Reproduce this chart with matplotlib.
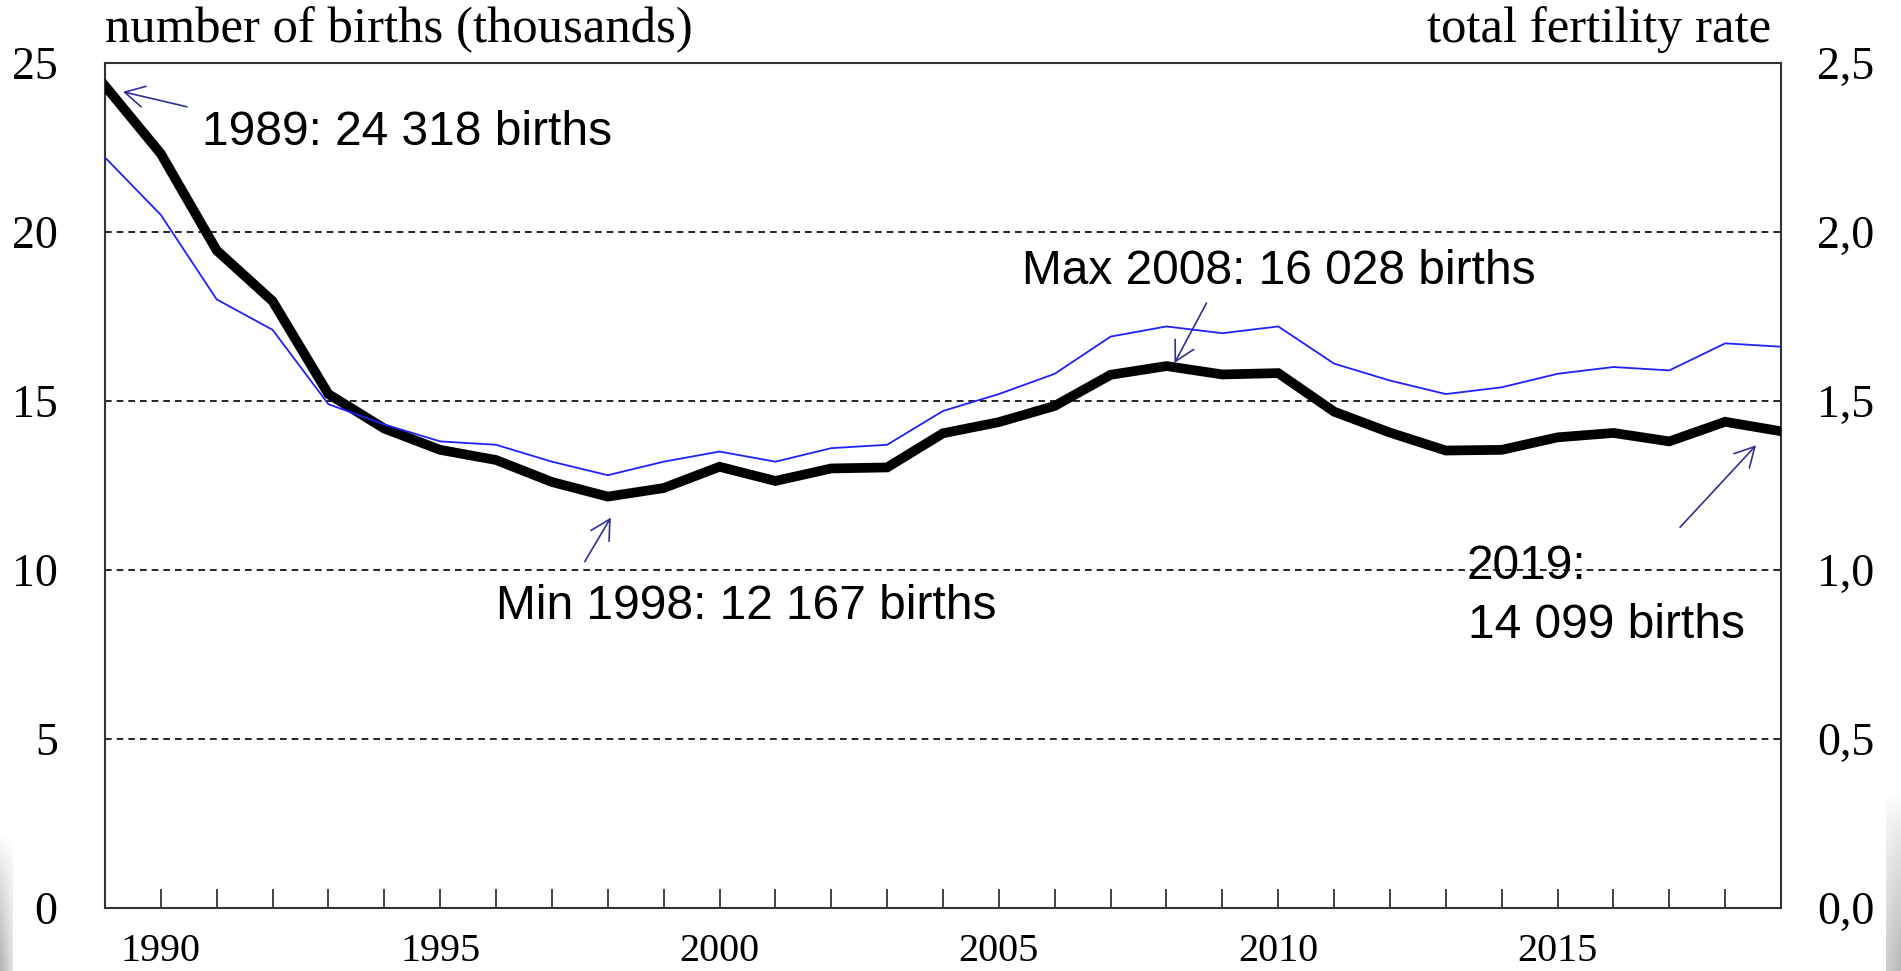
import numpy as np
import matplotlib.pyplot as plt
from matplotlib.transforms import offset_copy

# Estonia, births (thousands) and total fertility rate
years = list(range(1989, 2020))
births = [24.318, 22.31, 19.45, 17.95, 15.20, 14.18, 13.55, 13.25, 12.60, 12.167,
          12.42, 13.05, 12.63, 13.00, 13.03, 14.04, 14.37, 14.85, 15.77, 16.028,
          15.78, 15.82, 14.68, 14.06, 13.53, 13.55, 13.92, 14.05, 13.80, 14.38, 14.099]
tfr = [2.22, 2.05, 1.80, 1.71, 1.49, 1.43, 1.38, 1.37, 1.32, 1.28,
       1.32, 1.35, 1.32, 1.36, 1.37, 1.47, 1.52, 1.58, 1.69, 1.72,
       1.70, 1.72, 1.61, 1.56, 1.52, 1.54, 1.58, 1.60, 1.59, 1.67, 1.66]

left_ticks = [0, 5, 10, 15, 20, 25]
right_ticks = [0.0, 0.5, 1.0, 1.5, 2.0, 2.5]
right_labels = ["0,0", "0,5", "1,0", "1,5", "2,0", "2,5"]
grid_vals = [5, 10, 15, 20]

serif = "Liberation Serif"
sans = "Liberation Sans"
arrow_c = "#30309a"

fig = plt.figure(figsize=(19.01, 9.71), dpi=100)
ax = fig.add_axes([0.0552, 0.0649, 0.8817, 0.8705])
ax2 = ax.twinx()

for g in grid_vals:
    ax.axhline(g, color="black", lw=1.2, ls=(0, (4, 3)), zorder=1)

ax.plot(years, births, color="black", lw=7, solid_joinstyle="miter", zorder=3)
ax2.plot(years, tfr, color="#2020ff", lw=1.3, zorder=2)

ax.set_xlim(1989, 2019)
ax.set_ylim(0, 25)
ax2.set_ylim(0, 2.5)

ax.set_xticks(years[1:-1])
ax.set_xticklabels([str(y) if y % 5 == 0 else "" for y in years[1:-1]],
                   fontfamily=serif, fontsize=29)
ax.tick_params(axis="x", direction="in", length=14, width=1.2, pad=18, color="#222222")
ax.set_yticks(left_ticks)
ax.set_yticklabels([str(v) for v in left_ticks], fontfamily=serif, fontsize=33)
ax.tick_params(axis="y", length=0, pad=34)
ax2.set_yticks(right_ticks)
ax2.set_yticklabels(right_labels, fontfamily=serif, fontsize=33)
ax2.tick_params(axis="y", length=0, pad=26)

for s in ax.spines.values():
    s.set_color("#333333")
    s.set_linewidth(1.5)
for s in ax2.spines.values():
    s.set_visible(False)

fig.text(105 / 1901, 1 - 42 / 971, "number of births (thousands)", fontfamily=serif,
         fontsize=36.5, ha="left", va="baseline")
fig.text(1771 / 1901, 1 - 42 / 971, "total fertility rate", fontfamily=serif,
         fontsize=36.5, ha="right", va="baseline")

# annotations
tsize = 34.5
ax.text(1990.73, 22.57, "1989: 24 318 births", fontfamily=sans, fontsize=tsize, va="baseline")
ax.text(2005.42, 18.45, "Max 2008: 16 028 births", fontfamily=sans, fontsize=tsize, va="baseline")
ax.text(1996.0, 8.55, "Min 1998: 12 167 births", fontfamily=sans, fontsize=tsize, va="baseline")
ax.text(2013.37, 9.72, "2019:", fontfamily=sans, fontsize=tsize, va="baseline")
ax.text(2013.40, 7.98, "14 099 births", fontfamily=sans, fontsize=tsize, va="baseline")

# (year, tip offset from data point, tail offset from tip), pixels, y up
arrows = [
    (1989, (18, -6), (64, -15)),
    (2008, (8, 3), (32, 60)),
    (1998, (3, -21), (-26, -44)),
    (2019, (-25, -14), (-76, -82)),
]
for yr, tip, tail in arrows:
    i = years.index(yr)
    tr = offset_copy(ax.transData, fig=fig, x=tip[0], y=tip[1], units="dots")
    ax.annotate("", xy=(years[i], births[i]), xycoords=tr,
                xytext=tail, textcoords="offset pixels",
                arrowprops=dict(arrowstyle="->,head_length=0.7,head_width=0.38",
                                color=arrow_c, lw=1.2, shrinkA=0, shrinkB=0,
                                mutation_scale=20),
                annotation_clip=False, zorder=5)

# grey shading at the bottom corners
grad = np.linspace(0, 1, 100)[:, None] ** 0.8 * np.ones((1, 10))
gl = fig.add_axes([0, 0, 12 / 1901, 134 / 971])
gl.imshow(1 - 0.3 * grad * np.linspace(1, 0.4, 10)[None, :], cmap="gray", vmin=0, vmax=1,
          aspect="auto", origin="upper")
gl.axis("off")
gr = fig.add_axes([1 - 15 / 1901, 0, 15 / 1901, 177 / 971])
gr.imshow(1 - 0.28 * grad * np.linspace(0.7, 1, 10)[None, :], cmap="gray", vmin=0, vmax=1,
          aspect="auto", origin="upper")
gr.axis("off")

fig.savefig("out.png", dpi=100)
